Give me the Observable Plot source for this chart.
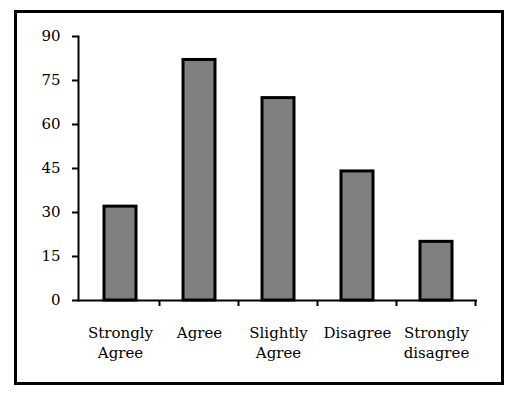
<!DOCTYPE html>
<html>
<head>
<meta charset="utf-8">
<script src="https://cdn.jsdelivr.net/npm/d3@7"></script>
<script src="https://cdn.jsdelivr.net/npm/@observablehq/plot@0.6"></script>
<style>
  html, body { margin: 0; padding: 0; background: #fff; }
  #wrap { position: relative; width: 519px; height: 397px; }
  #border { position: absolute; left: 14px; top: 10px; width: 484px; height: 369px; border: 3px solid #000; pointer-events: none; }
</style>
</head>
<body>
<div id="wrap"><div id="border"></div></div>
<script>
const categories = ["Strongly Agree", "Agree", "Slightly Agree", "Disagree", "Strongly disagree"];
const labels = ["Strongly\nAgree", "Agree", "Slightly\nAgree", "Disagree", "Strongly\ndisagree"];
const values = [32, 82, 69, 44, 20];
const yTicks = [0, 15, 30, 45, 60, 75, 90];

const data = categories.map((c, i) => ({category: c, value: values[i]}));
const labelOf = new Map(categories.map((c, i) => [c, labels[i]]));
const serif = "DejaVu Serif";

function boundaryTicks(index, scales, values, dims) {
  const x = scales.x;
  const step = x.step ? x.step() : x.bandwidth();
  const bw = x.bandwidth();
  const y0 = dims.height - dims.marginBottom;
  const g = d3.create("svg:g");
  categories.forEach(c => {
    const bx = x(c) + bw / 2 + step / 2;
    g.append("line").attr("x1", bx).attr("x2", bx).attr("y1", y0).attr("y2", y0 + 6)
      .attr("stroke", "#000").attr("stroke-width", 2);
  });
  return g.node();
}

const chart = Plot.plot({
  width: 519,
  height: 397,
  marginLeft: 78,
  marginRight: 42,
  marginTop: 36,
  marginBottom: 97,
  style: {fontSize: "15px", fontFamily: serif, color: "#000", background: "transparent"},
  x: {domain: categories, paddingInner: 0.6, paddingOuter: 0.3, label: null},
  y: {domain: [0, 90], label: null},
  marks: [
    Plot.barY(data, {x: "category", y: "value", fill: "#808080", stroke: "#000", strokeWidth: 3}),
    Plot.axisY({ticks: yTicks, tickSize: 6, tickPadding: 12, fontSize: 15, fontFamily: serif, strokeWidth: 2, label: null}),
    Plot.axisX({tickSize: 0, tickPadding: 23, fontSize: 15, fontFamily: serif, lineHeight: 1.35, tickFormat: d => labelOf.get(d), label: null}),
    Plot.frame({anchor: "left", strokeWidth: 2}),
    Plot.ruleY([0], {strokeWidth: 2}),
    boundaryTicks
  ]
});
document.getElementById("wrap").prepend(chart);
</script>
</body>
</html>
